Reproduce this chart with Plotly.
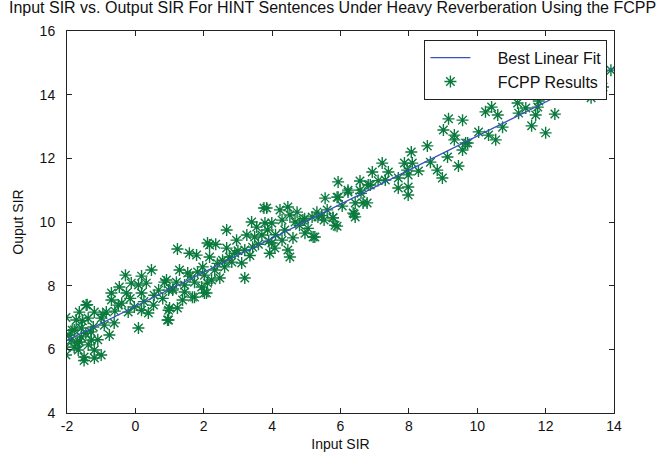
import plotly.graph_objects as go

# FCPP results: input SIR (x) vs output SIR (y) (grouped by region)
input_sir = [
    # lower-left cluster
    0.47, -0.29, 0.18, -0.12, 0.09, 0.32, -0.47, -0.7, -0.26, 0.18,
    0.85, 0.97, 0.68, -0.7, -0.5, -1.44, -1.2, -1.64, -2.03, -1.73,
    -1.38, -1.0, -0.85, -0.21, -0.03, 0.18, 0.53, 0.38, 0.97, 0.97,
    0.09, -0.62, -0.91, -1.23, -1.58, -1.79, -0.76, -1.94, -1.58, -1.29,
    -2.03, -1.79, -1.38, -1.2, -2.03, -1.5, -1.2, -1.0, -1.64, -1.88,
    -1.67, -1.5, -1.41,
    # x 1..4
    1.23, 1.58, 1.79, 2.11, 2.17, 2.67, 2.91, 3.2, 3.43, 2.82,
    3.11, 2.61, 2.32, 1.97, 1.82, 1.29, 1.53, 2.02, 2.23, 2.47,
    3.2, 0.91, 1.2, 1.44, 1.73, 1.94, 2.11, 1.09, 1.44, 1.73,
    2.08, 1.38, 1.0, 1.23, 0.94, 2.67, 2.96, 3.4, 3.55, 3.79,
    3.26, 3.49, 3.7, 3.76,
    # x 4..7
    6.93, 5.93, 6.57, 6.81, 6.22, 5.9, 5.55, 6.43, 6.66, 6.4,
    3.84, 4.23, 4.46, 4.73, 5.31, 4.52, 5.34, 5.61, 5.78, 5.9,
    5.52, 5.17, 4.9, 4.67, 4.29, 3.99, 3.87, 4.37, 4.96, 5.2,
    4.61, 4.29, 3.99, 4.08, 4.46, 4.52, 3.93,
    # x 6..10
    9.16, 9.57, 9.01, 9.33, 9.33, 9.66, 9.57, 8.54, 8.07, 9.13,
    9.45, 8.63, 7.22, 7.87, 8.1, 7.4, 8.28, 8.83, 7.95, 7.69,
    7.98, 8.98, 7.31, 7.98, 7.69, 7.98, 6.78, 6.37, 6.22, 6.57,
    6.87, 5.93, 6.43, 5.78,
    # x 10..14
    13.91, 13.09, 13.33, 13.68, 12.27, 12.44, 11.8, 11.18, 11.21, 11.42,
    11.77, 11.71, 12.27, 11.59, 12.0, 10.24, 10.42, 10.6, 10.74, 10.04,
    10.33, 10.54, 9.72,
    # points along the band
    2.35, 5.84, 5.25, 2.17, 2.02, 1.67, -1.85, -1.7, -1.55, -1.45,
    -1.3, -1.1, -0.95, -0.6, -0.4, -0.15, 0.25, 0.55, 0.8, 1.1,
    1.6, 2.4, 2.75, 3.0, 3.35, 3.6, 4.1, 4.8, 5.05, 5.45,
    6.05, 6.6, 7.1, 2.55, 3.9, 4.95,
]
output_sir = [
    # lower-left cluster
    8.49, 8.33, 8.3, 8.08, 8.02, 8.08, 7.96, 7.77, 7.77, 7.77,
    8.11, 7.86, 7.86, 7.55, 7.39, 7.39, 7.17, 7.17, 7.0, 6.92,
    6.98, 6.98, 7.17, 7.17, 7.33, 7.23, 7.39, 7.14, 7.23, 6.92,
    6.67, 6.83, 6.76, 6.7, 6.67, 6.61, 6.45, 6.45, 6.39, 6.29,
    6.07, 6.07, 6.14, 5.98, 5.82, 5.76, 5.73, 5.82, 6.23, 6.29,
    5.98, 5.65, 7.4,
    # x 1..4
    9.15, 9.02, 8.96, 9.34, 8.9, 9.18, 9.02, 9.12, 9.21, 8.74,
    8.71, 8.59, 8.49, 8.59, 8.43, 8.49, 8.4, 8.33, 8.18, 8.24,
    8.24, 8.18, 8.11, 8.02, 8.11, 7.96, 8.08, 7.86, 7.8, 7.64,
    7.77, 7.55, 7.3, 7.3, 6.92, 9.75, 9.43, 10.0, 9.84, 9.97,
    9.59, 9.53, 9.59, 10.44,
    # x 4..7
    11.57, 11.26, 11.29, 11.16, 10.94, 10.78, 10.75, 10.6, 10.6, 10.25,
    10.44, 10.38, 10.47, 10.31, 10.31, 10.22, 10.16, 10.38, 10.13, 9.87,
    10.06, 10.16, 10.06, 10.0, 10.06, 9.97, 9.75, 9.75, 9.65, 9.53,
    9.5, 9.43, 9.34, 9.18, 9.12, 8.9, 9.02,
    # x 6..10
    13.24, 13.2, 12.89, 12.73, 12.58, 12.48, 12.26, 12.39, 12.2, 12.04,
    11.76, 11.88, 11.85, 11.85, 11.85, 11.57, 11.6, 11.63, 11.63, 11.38,
    11.48, 11.38, 11.32, 11.1, 11.07, 10.85, 10.6, 10.28, 11.0, 11.0,
    11.16, 10.78, 10.16, 10.13,
    # x 10..14
    14.77, 14.2, 13.9, 14.24, 14.05, 14.02, 13.8, 13.74, 13.42, 13.58,
    13.61, 13.36, 13.39, 13.02, 12.8, 13.46, 13.61, 13.36, 12.98, 12.83,
    12.73, 12.58, 12.48,
    # points along the band
    9.3, 9.9, 9.53, 9.28, 7.77, 7.64, 6.6, 6.2, 6.9, 6.5,
    6.55, 6.3, 7.1, 7.2, 7.45, 7.6, 7.5, 7.7, 7.6, 7.9,
    8.3, 8.7, 8.9, 9.1, 8.95, 9.3, 9.6, 9.9, 9.8, 10.2,
    10.5, 10.9, 11.3, 8.8, 9.4, 10.1,
]
assert len(input_sir) == len(output_sir)

# Best linear fit end points
fit_x = [-2, 14]
fit_y = [6.28, 14.84]

x_ticks = [-2, 0, 2, 4, 6, 8, 10, 12, 14]
y_ticks = [4, 6, 8, 10, 12, 14, 16]

FONT = "Liberation Sans, Arial, sans-serif"
NB = "\u00a0" * 5

fig = go.Figure()
fig.add_trace(go.Scatter(
    x=input_sir, y=output_sir, mode="markers", name=NB + "FCPP Results",
    marker=dict(symbol="asterisk-open", size=10, color="#0b7a3e",
                line=dict(color="#0b7a3e", width=1.4)),
    legendrank=2,
))
fig.add_trace(go.Scatter(
    x=fit_x, y=fit_y, mode="lines", name=NB + "Best Linear Fit",
    line=dict(color="#3a52b8", width=1.2),
    legendrank=1,
))

axis_common = dict(
    showline=True, linecolor="#222", linewidth=1, mirror="ticks",
    ticks="inside", ticklen=5, tickcolor="#222", showgrid=False, zeroline=False,
    automargin=False,
    tickfont=dict(family=FONT, size=14, color="#111"),
)
fig.update_xaxes(range=[-2, 14], tickvals=x_ticks, ticktext=[str(v) for v in x_ticks],
                 ticklabelstandoff=0,
                 title=dict(text="Input SIR", standoff=8,
                            font=dict(family=FONT, size=14, color="#111")),
                 **axis_common)
fig.update_yaxes(range=[4, 16], tickvals=y_ticks, ticktext=[str(v) for v in y_ticks],
                 ticklabelstandoff=8,
                 title=dict(text="Ouput SIR", standoff=12,
                            font=dict(family=FONT, size=14, color="#111")),
                 **axis_common)

fig.update_layout(
    width=665, height=452,
    margin=dict(l=67, r=51, t=31, b=39, autoexpand=False),
    paper_bgcolor="white", plot_bgcolor="white",
    title=dict(text="Input SIR vs. Output SIR For HINT Sentences Under Heavy Reverberation Using the FCPP",
               x=0.5, xanchor="center", y=0.995, yanchor="top",
               font=dict(family=FONT, size=16, color="#111")),
    legend=dict(x=0.988, xanchor="right", y=0.977, yanchor="top",
                bgcolor="white", bordercolor="#222", borderwidth=1,
                font=dict(family=FONT, size=16, color="#111"),
                tracegroupgap=0, itemwidth=40),
    showlegend=True,
)

fig.write_html("out.html", config={"displayModeBar": False},
               post_script="document.body.style.margin='0';document.body.style.overflow='hidden';")
